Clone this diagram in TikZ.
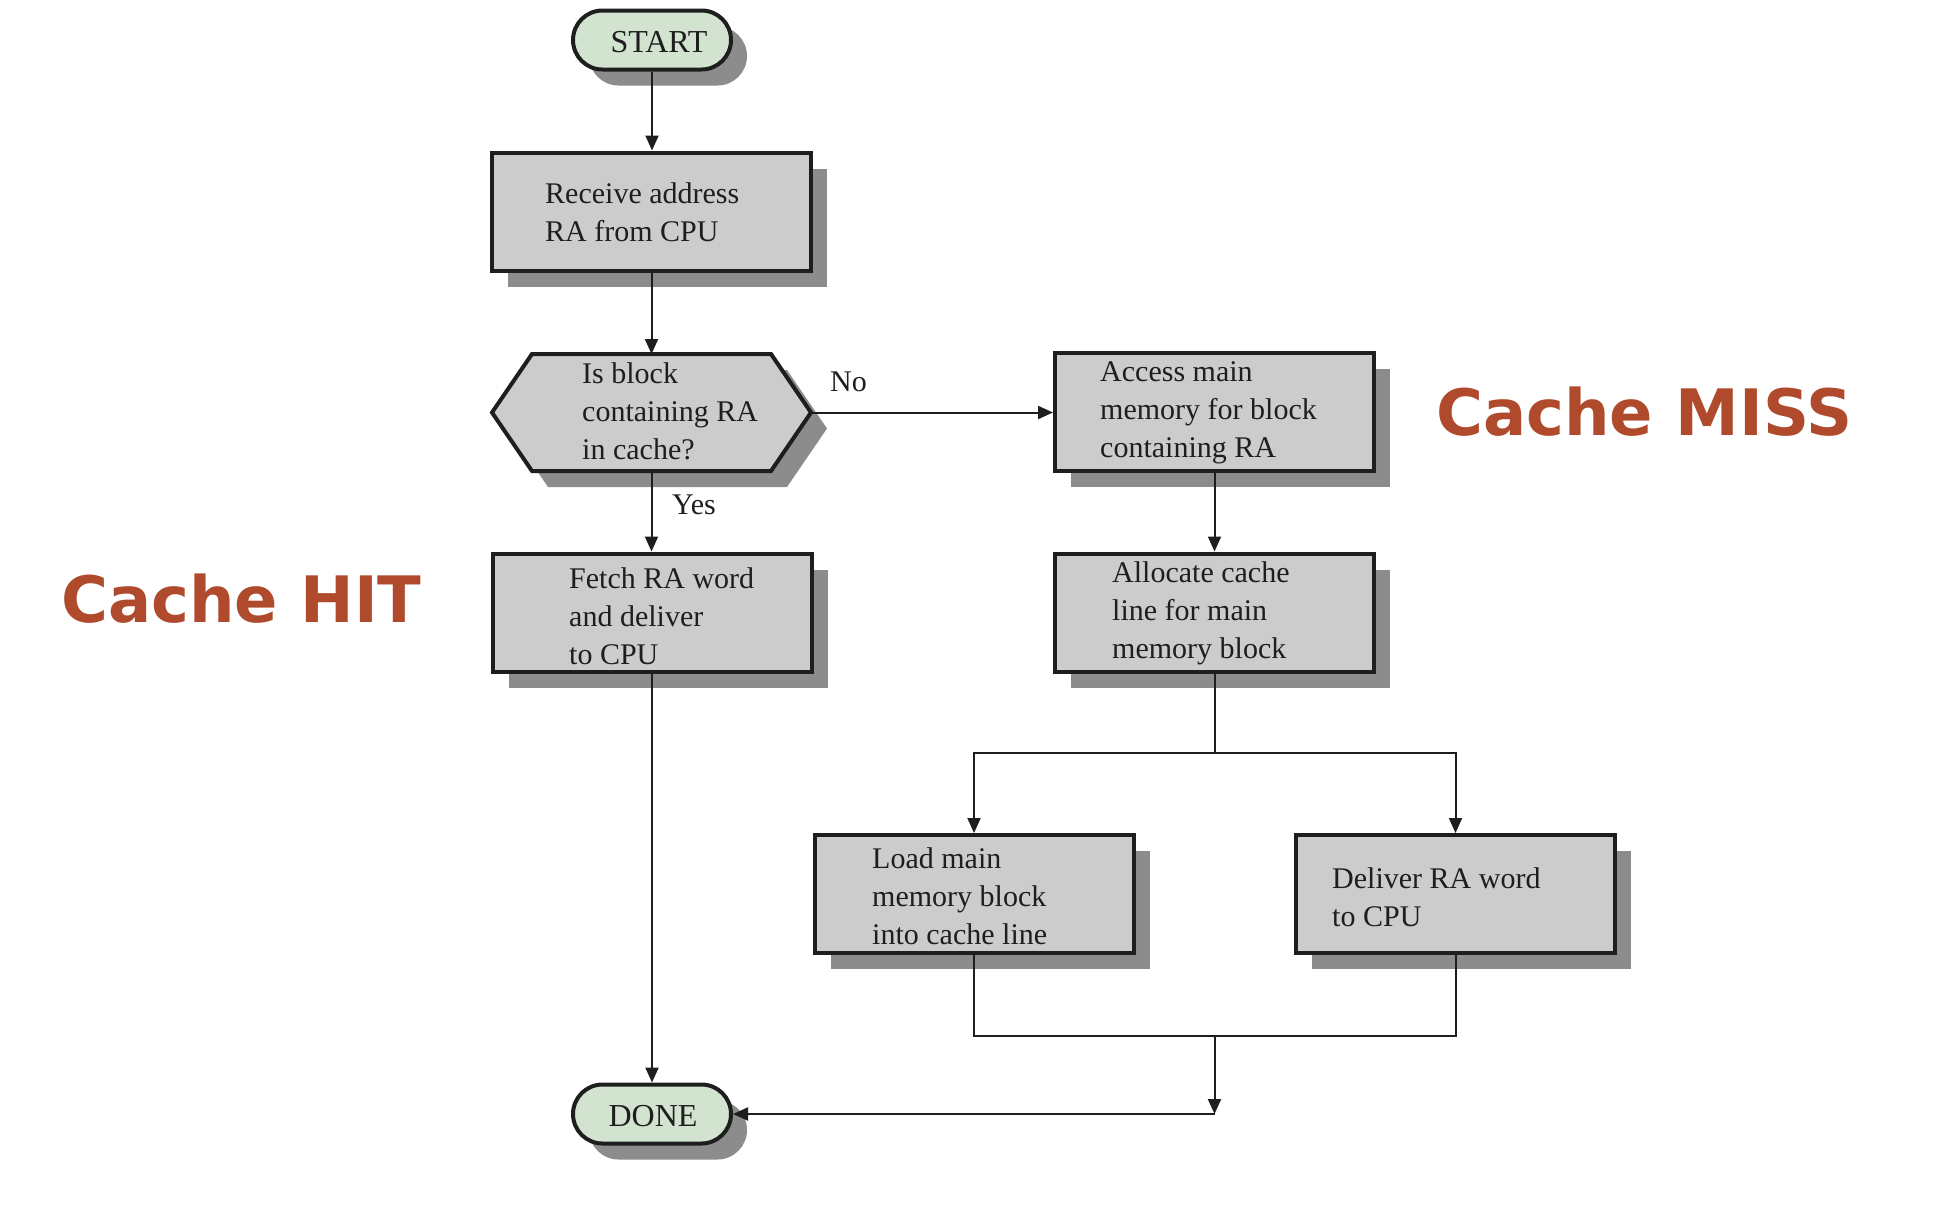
\documentclass[tikz,border=0pt]{standalone}
\usepackage{fontspec}
\setmainfont{Liberation Serif}
\newfontfamily\labelfont{DejaVu Sans}
\usetikzlibrary{arrows.meta,shapes.misc,shadows}
\definecolor{boxgray}{HTML}{CCCCCC}
\definecolor{shadowgray}{HTML}{8C8C8C}
\definecolor{pillgreen}{HTML}{D2E4D0}
\definecolor{ink}{HTML}{1E1E1E}
\definecolor{hitred}{HTML}{AF4A2D}
\begin{document}
\begin{tikzpicture}[x=1pt,y=-1pt,
  shadowed/.style={drop shadow={shadow xshift=16pt,shadow yshift=-16pt,fill=shadowgray,opacity=1}},
  procbox/.style={rectangle, draw=ink, line width=4pt, fill=boxgray, minimum width=319pt, minimum height=118pt, inner sep=0pt, shadowed},
  pill/.style={rounded rectangle, draw=ink, line width=4pt, fill=pillgreen, minimum width=158pt, minimum height=59pt, inner sep=0pt, shadowed},
  hexframe/.style={rectangle, minimum width=319pt, minimum height=117pt, inner sep=0pt, outer sep=0pt},
  boxtext/.style={anchor=north west, align=left, inner sep=0pt, text=ink, font=\fontsize{30}{38}\selectfont},
  lbl/.style={anchor=base west, inner sep=0pt, text=ink, font=\fontsize{30}{38}\selectfont},
  termtext/.style={anchor=base, inner sep=0pt, text=ink, font=\fontsize{32}{38}\selectfont},
  conn/.style={draw=ink, line width=2pt, -{Triangle[length=15pt,width=13pt]}},
  plain/.style={draw=ink, line width=2pt},
  redlbl/.style={anchor=base west, inner sep=0pt, text=hitred, font=\labelfont\bfseries\fontsize{64}{64}\selectfont}]
\useasboundingbox (0,0) rectangle (1942,1208);

% terminals
\node[pill] (start) at (652,40) {};
\node[termtext] (startT) at (659,52) {START};
\node[pill] (done) at (652,1114) {};
\node[termtext] (doneT) at (653,1126) {DONE};

% process boxes
\node[procbox] (rec) at (651.5,211.5) {};
\node[procbox] (fetch) at (652,612.5) {};
\node[procbox] (access) at (1214.5,412) {};
\node[procbox] (alloc) at (1214.5,612.5) {};
\node[procbox] (load) at (974,894) {};
\node[procbox] (deliver) at (1455.5,894) {};

% decision hexagon
\node[hexframe] (hexs) at (667.5,428.5) {};
\fill[shadowgray] (hexs.west) -- ([xshift=40pt]hexs.north west) -- ([xshift=-40pt]hexs.north east) -- (hexs.east) -- ([xshift=-40pt]hexs.south east) -- ([xshift=40pt]hexs.south west) -- cycle;
\node[hexframe] (hex) at (651.5,412.5) {};
\draw[draw=ink, fill=boxgray, line width=4pt] (hex.west) -- ([xshift=40pt]hex.north west) -- ([xshift=-40pt]hex.north east) -- (hex.east) -- ([xshift=-40pt]hex.south east) -- ([xshift=40pt]hex.south west) -- cycle;

% texts
\node[boxtext] (recT) at (545,182.5) {Receive address\\RA from CPU};
\node[boxtext] (hexT) at (582,362.5) {Is block\\containing RA\\in cache?};
\node[boxtext] (fetchT) at (569,567.5) {Fetch RA word\\and deliver\\to CPU};
\node[boxtext] (accessT) at (1100,361.5) {Access main\\memory for block\\containing RA};
\node[boxtext] (allocT) at (1112,561.5) {Allocate cache\\line for main\\memory block};
\node[boxtext] (loadT) at (872,847.5) {Load main\\memory block\\into cache line};
\node[boxtext] (deliverT) at (1332,867.5) {Deliver RA word\\to CPU};

\node[lbl] (no) at (830,391) {No};
\node[lbl] (yes) at (672,514) {Yes};

\node[redlbl] (hit) at (61,622) {Cache HIT};
\node[redlbl] (miss) at (1436,435) {Cache MISS};

% connectors
\draw[conn] (start.south) -- (start.south |- rec.north);
\draw[conn] (rec.south) -- (rec.south |- hex.north);
\draw[conn] (hex.south) -- (hex.south |- fetch.north);
\draw[conn] (hex.east) -- (hex.east -| access.west);
\draw[conn] (fetch.south) -- (fetch.south |- done.north);
\draw[conn] (access.south) -- (alloc.north);
\coordinate (split) at (1214.5,753);
\draw[plain] (alloc.south) -- (split);
\draw[conn] (split) -| (load.north);
\draw[conn] (split) -| (deliver.north);
\coordinate (merge) at (1214.5,1036);
\draw[plain] (load.south) |- (merge) -| (deliver.south);
\coordinate (corner) at (merge |- done.east);
\draw[conn] (merge) -- (corner);
\draw[conn] (corner) -- (done.east);
\end{tikzpicture}
\end{document}
